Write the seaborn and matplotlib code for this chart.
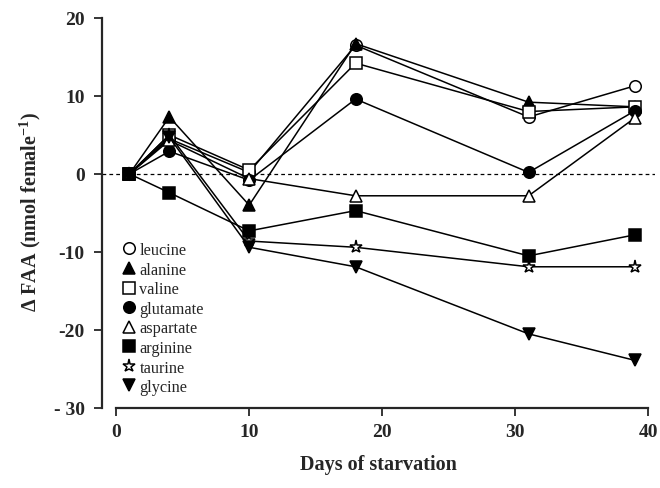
import matplotlib
matplotlib.use("Agg")
import matplotlib.pyplot as plt
from matplotlib.lines import Line2D
import seaborn as sns
import pandas as pd

# Sampling days
days = [1, 4, 10, 18, 31, 39]

# Change in free amino acid content (nmol female^-1)
leucine = [0, 4.5, 0.2, 16.5, 7.3, 11.3]
alanine = [0, 7.3, -4.0, 16.7, 9.2, 8.6]
valine = [0, 5.0, 0.5, 14.2, 8.0, 8.6]
glutamate = [0, 2.9, -0.8, 9.6, 0.2, 8.1]
aspartate = [0, 4.3, -0.6, -2.8, -2.8, 7.2]
arginine = [0, -2.4, -7.3, -4.7, -10.5, -7.8]
taurine = [0, 5.0, -8.6, -9.4, -11.9, -11.9]
glycine = [0, 4.7, -9.4, -11.9, -20.5, -23.9]

names = ["leucine", "alanine", "valine", "glutamate",
         "aspartate", "arginine", "taurine", "glycine"]
values = [leucine, alanine, valine, glutamate,
          aspartate, arginine, taurine, glycine]

yticks = [-30, -20, -10, 0, 10, 20]
ytick_labels = ["- 30", "-20", "-10", "0", "10", "20"]
xticks = [0, 10, 20, 30, 40]

styles = {
    "leucine": ("o", "white", 8.3),
    "alanine": ("^", "black", 8.3),
    "valine": ("s", "white", 8.0),
    "glutamate": ("o", "black", 8.3),
    "aspartate": ("^", "white", 8.3),
    "arginine": ("s", "black", 8.0),
    "taurine": ("*", "white", 9.5),
    "glycine": ("v", "black", 8.3),
}

df = pd.concat(
    [pd.DataFrame({"day": days, "faa": v, "aa": n}) for n, v in zip(names, values)],
    ignore_index=True,
)

sns.set_style("ticks")
plt.rcParams["font.family"] = ["Liberation Serif", "DejaVu Serif"]
plt.rcParams["mathtext.fontset"] = "custom"
plt.rcParams["mathtext.rm"] = "Liberation Serif"
plt.rcParams["mathtext.bf"] = "Liberation Serif:bold"

fig = plt.figure(figsize=(6.6, 4.89), dpi=100)
ax = fig.add_axes([101.5 / 660, 80 / 489, (655 - 101.5) / 660, (409 - 15) / 489])

ax.axhline(0, color="black", lw=0.9, ls=(0, (3, 2.5)), zorder=1)

for n in names:
    m, fc, ms = styles[n]
    sub = df[df["aa"] == n]
    sns.lineplot(data=sub, x="day", y="faa", ax=ax, color="black", lw=1.1,
                 marker=m, markersize=ms, markerfacecolor=fc,
                 markeredgecolor="black", markeredgewidth=1.1,
                 legend=False, errorbar=None, zorder=3)

ax.set_xlim(-1.1, 40.5)
ax.set_ylim(-30, 20.5)
ax.set_xticks(xticks)
ax.set_yticks(yticks)
ax.set_yticklabels(ytick_labels)
ax.spines["top"].set_visible(False)
ax.spines["right"].set_visible(False)
ax.spines["left"].set_bounds(-30, 20)
ax.spines["bottom"].set_bounds(0, 40)
for s in ("left", "bottom"):
    ax.spines[s].set_linewidth(1.6)
ax.tick_params(direction="out", length=6, width=1.3, labelsize=14, pad=6)
ax.tick_params(axis="x", pad=5)
for lab in ax.get_xticklabels() + ax.get_yticklabels():
    lab.set_fontweight("bold")

ax.set_xlabel("Days of starvation", fontsize=14.5, fontweight="bold", labelpad=10)
ax.set_ylabel(r"$\mathbf{\Delta}$ FAA (nmol female$^{\mathbf{-1}}$)",
              fontsize=14.5, fontweight="bold", labelpad=8)

handles = []
for n in names:
    m, fc, ms = styles[n]
    handles.append(Line2D([], [], ls="none", marker=m, markersize=ms,
                          markerfacecolor=fc, markeredgecolor="black",
                          markeredgewidth=1.1, label=n))
leg = ax.legend(handles=handles, loc="upper left",
                bbox_to_anchor=(0.02, 0.45), frameon=False,
                fontsize=11.7, handlelength=0.6, handletextpad=0.35,
                labelspacing=0.22, borderaxespad=0.3)

fig.savefig("out.png", dpi=100)
